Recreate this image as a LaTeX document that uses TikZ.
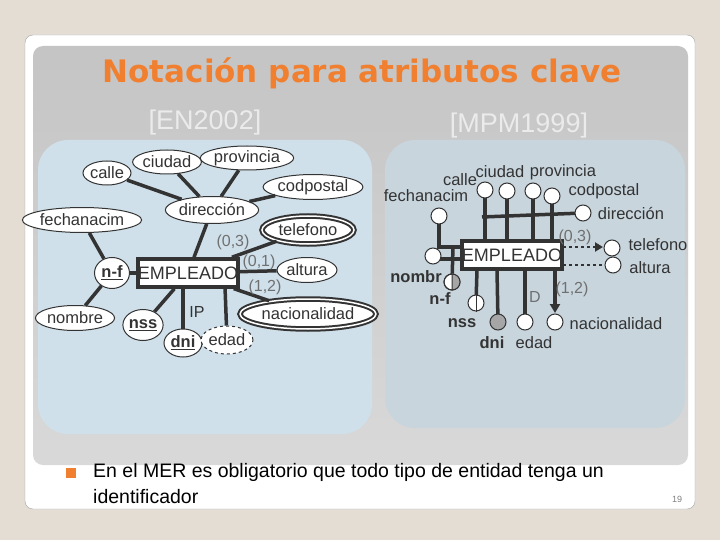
\documentclass[tikz,border=0pt]{standalone}
\usepackage{fontspec}
\setmainfont{Liberation Sans}
\newfontfamily\titlefont{DejaVu Sans}
\usetikzlibrary{shapes.geometric,arrows.meta}
\definecolor{bgbeige}{HTML}{E3DDD3}
\definecolor{ttl}{HTML}{F08030}
\definecolor{ln}{HTML}{333333}
\definecolor{lpan}{HTML}{CFE0EA}
\definecolor{rpan}{HTML}{C8D5DD}
\tikzset{
 attr/.style={ellipse,draw=ln,fill=white,line width=1pt,inner sep=0pt},
 multi/.style={ellipse,draw=ln,double=white,double distance=1.5pt,line width=2pt,fill=white,inner sep=0pt,minimum height=26pt},
 ent/.style={draw=ln,line width=3.5pt,fill=white,minimum width=88pt,minimum height=28pt,inner sep=0pt,font=\fontsize{18}{18}\selectfont},
 ln/.style={draw=ln,line width=3.5pt},
 card/.style={text=ln!70,font=\fontsize{16}{16}\selectfont},
 circ/.style={circle,draw=ln,fill=white,line width=1pt,minimum size=16pt,inner sep=0pt},
 lab/.style={text=ln,font=\fontsize{16.5}{16.5}\selectfont,inner sep=0pt},
 blab/.style={lab,font=\bfseries\fontsize{16.5}{16.5}\selectfont},
}
\begin{document}
\begin{tikzpicture}[x=1pt,y=-1pt,font=\fontsize{16.5}{16.5}\selectfont,text=ln]
\useasboundingbox (0,0) rectangle (720,540);
\fill[bgbeige] (0,0) rectangle (720,540);
\fill[white,draw=gray!70,rounded corners=8pt] (25,35) rectangle (695,509);
\shade[top color=black!23,bottom color=black!15,rounded corners=10pt] (33,46) rectangle (688,465);
\fill[lpan,rounded corners=30pt] (38,140) rectangle (372,434);
\fill[rpan,rounded corners=30pt] (385,140) rectangle (685,428);
% titles
\node[text=ttl,font=\titlefont\bfseries\fontsize{31}{31}\selectfont] (title) at (362,73) {Notación para atributos clave};
\node[text=black!8,font=\fontsize{27}{27}\selectfont] (en) at (205,123) {[EN2002]};
\node[text=black!8,font=\fontsize{27}{27}\selectfont] (mpm) at (519,126) {[MPM1999]};
% left diagram
\node[attr,minimum width=48pt,minimum height=24pt] (calle) at (107,173) {calle};
\node[attr,minimum width=64pt,minimum height=24pt] (ciudad) at (167,162) {ciudad};
\node[attr,minimum width=82pt,minimum height=24pt] (prov) at (247,158) {provincia};
\node[attr,minimum width=97pt,minimum height=25pt] (cod) at (313,187) {codpostal};
\node[attr,minimum width=92pt,minimum height=27pt] (dir) at (212,210) {dirección};
\node[attr,minimum width=87pt,minimum height=25pt] (fecha) at (82,220) {fechanacim};
\node[attr,minimum width=35pt,minimum height=31pt] (nf) at (112,273) {\bfseries\underline{n-f}};
\node[attr,minimum width=60pt,minimum height=25pt] (alt) at (307,270) {altura};
\node[attr,minimum width=78pt,minimum height=25pt] (nom) at (75,318) {nombre};
\node[attr,minimum width=37pt,minimum height=31pt] (nss) at (143,325) {\bfseries\underline{nss}};
\node[attr,minimum width=38pt,minimum height=28pt] (dni) at (183,343) {\bfseries\underline{dni}};
\node[attr,dashed,minimum width=45pt,minimum height=28pt] (edad) at (227,340) {edad};
\node[multi,minimum width=92pt,minimum height=28pt] (tel) at (308,230) {telefono};
\node[multi,minimum width=136pt,minimum height=30pt] (nac) at (308,314) {nacionalidad};
\node[ent] (e1) at (188,273) {};
\draw[ln] (calle) -- (dir); \draw[ln] (ciudad) -- (dir); \draw[ln] (prov) -- (dir); \draw[ln] (cod) -- (dir);
\draw[ln] (dir) -- (e1); \draw[ln] (fecha) -- (nf); \draw[ln] (nom) -- (nf); \draw[ln] (nf) -- (e1);
\draw[ln] (e1) -- (nss); \draw[ln] (183,287) -- (dni); \draw[ln] (225,287) -- (edad);
\draw[ln] (e1) -- (tel); \draw[ln] (e1) -- (alt); \draw[ln] (e1) -- (nac);
\node[ent] at (e1) {EMPLEADO};
\node[card] (c03) at (233,242) {(0,3)};
\node[card] (c01) at (259,262) {(0,1)};
\node[card] (c12) at (265,287) {(1,2)};
\node[card,text=ln] (ip) at (197,312) {IP};
% right diagram
\draw[ln] (485,190) -- (485,240); \draw[ln] (507,191) -- (507,240);
\draw[ln] (533,191) -- (533,240); \draw[ln] (552,195) -- (552,240);
\draw[ln] (482,217) -- (583,213);
\draw[ln] (439,216) -- (439,247) -- (467,247);
\draw[ln] (433,259) -- (467,259);
\draw[ln] (453,247) -- (452,282);
\draw[ln] (477,270) -- (476,303); \draw[ln] (497,270) -- (498,322);
\draw[ln] (525,270) -- (525,322);
\draw[ln,-{Triangle[length=9pt,width=10pt]}] (555,268) -- (555,313);
\draw[ln,dashed,line width=2.5pt,-{Triangle[length=8pt,width=9pt]}] (557,247) -- (603,247);
\draw[ln,dashed,line width=2.5pt] (557,265) -- (605,265);
\node[ent,minimum width=88pt,minimum height=28pt] (e2) at (512,255) {EMPLEADO};
\node[circ] (rcalle) at (485,190) {};
\node[circ] (rciu) at (507,191) {};
\node[circ] (rprov) at (533,191) {};
\node[circ] (rcod) at (552,196) {};
\node[circ] (rdir) at (583,213) {};
\node[circ] (rfecha) at (439,216) {};
\node[circ] (rnom) at (433,256) {};
\node[circ] (rnf) at (452,282) {};
\fill[gray!70] (rnf.north) arc (90:-90:8pt) -- cycle;
\draw[ln,line width=1pt] (rnf.north) -- (rnf.south) (rnf) circle (8pt);
\node[circ] (rnss) at (476,303) {};
\draw[ln,line width=1pt] (rnss.north) -- (rnss.south);
\node[circ,fill=gray!70] (rdni) at (498,322) {};
\node[circ] (redad) at (525,322) {};
\node[circ] (rnac) at (555,322) {};
\node[circ] (rtel) at (612,248) {};
\node[circ] (ralt) at (613,265) {};
\node[lab] at (460,180) {calle};
\node[lab] at (500,172) {ciudad};
\node[lab] at (563,172) {provincia};
\node[lab] at (604,191) {codpostal};
\node[lab] at (426,196) {fechanacim};
\node[lab] at (631,214) {dirección};
\node[lab] at (658,245) {telefono};
\node[lab] at (650,268) {altura};
\node[blab] at (416,277) {nombr};
\node[blab] at (440,299) {n-f};
\node[blab] at (462,323) {nss};
\node[blab] at (492,343) {dni};
\node[lab] at (534,343) {edad};
\node[lab] at (616,324) {nacionalidad};
\node[card] at (575,237) {(0,3)};
\node[card] at (572,289) {(1,2)};
\node[card] at (535,297) {D};
% bullet text
\fill[ttl] (66,468) rectangle (76,478);
\node[anchor=west,inner sep=0pt,text=black,font=\fontsize{19.5}{19.5}\selectfont] (b1) at (93,472) {En el MER es obligatorio que todo tipo de entidad tenga un};
\node[anchor=west,inner sep=0pt,text=black,font=\fontsize{19.5}{19.5}\selectfont] (b2) at (93,497) {identificador};
\node[text=black!50,font=\fontsize{9}{9}\selectfont] (pg) at (677,499) {19};
\end{tikzpicture}
\end{document}
